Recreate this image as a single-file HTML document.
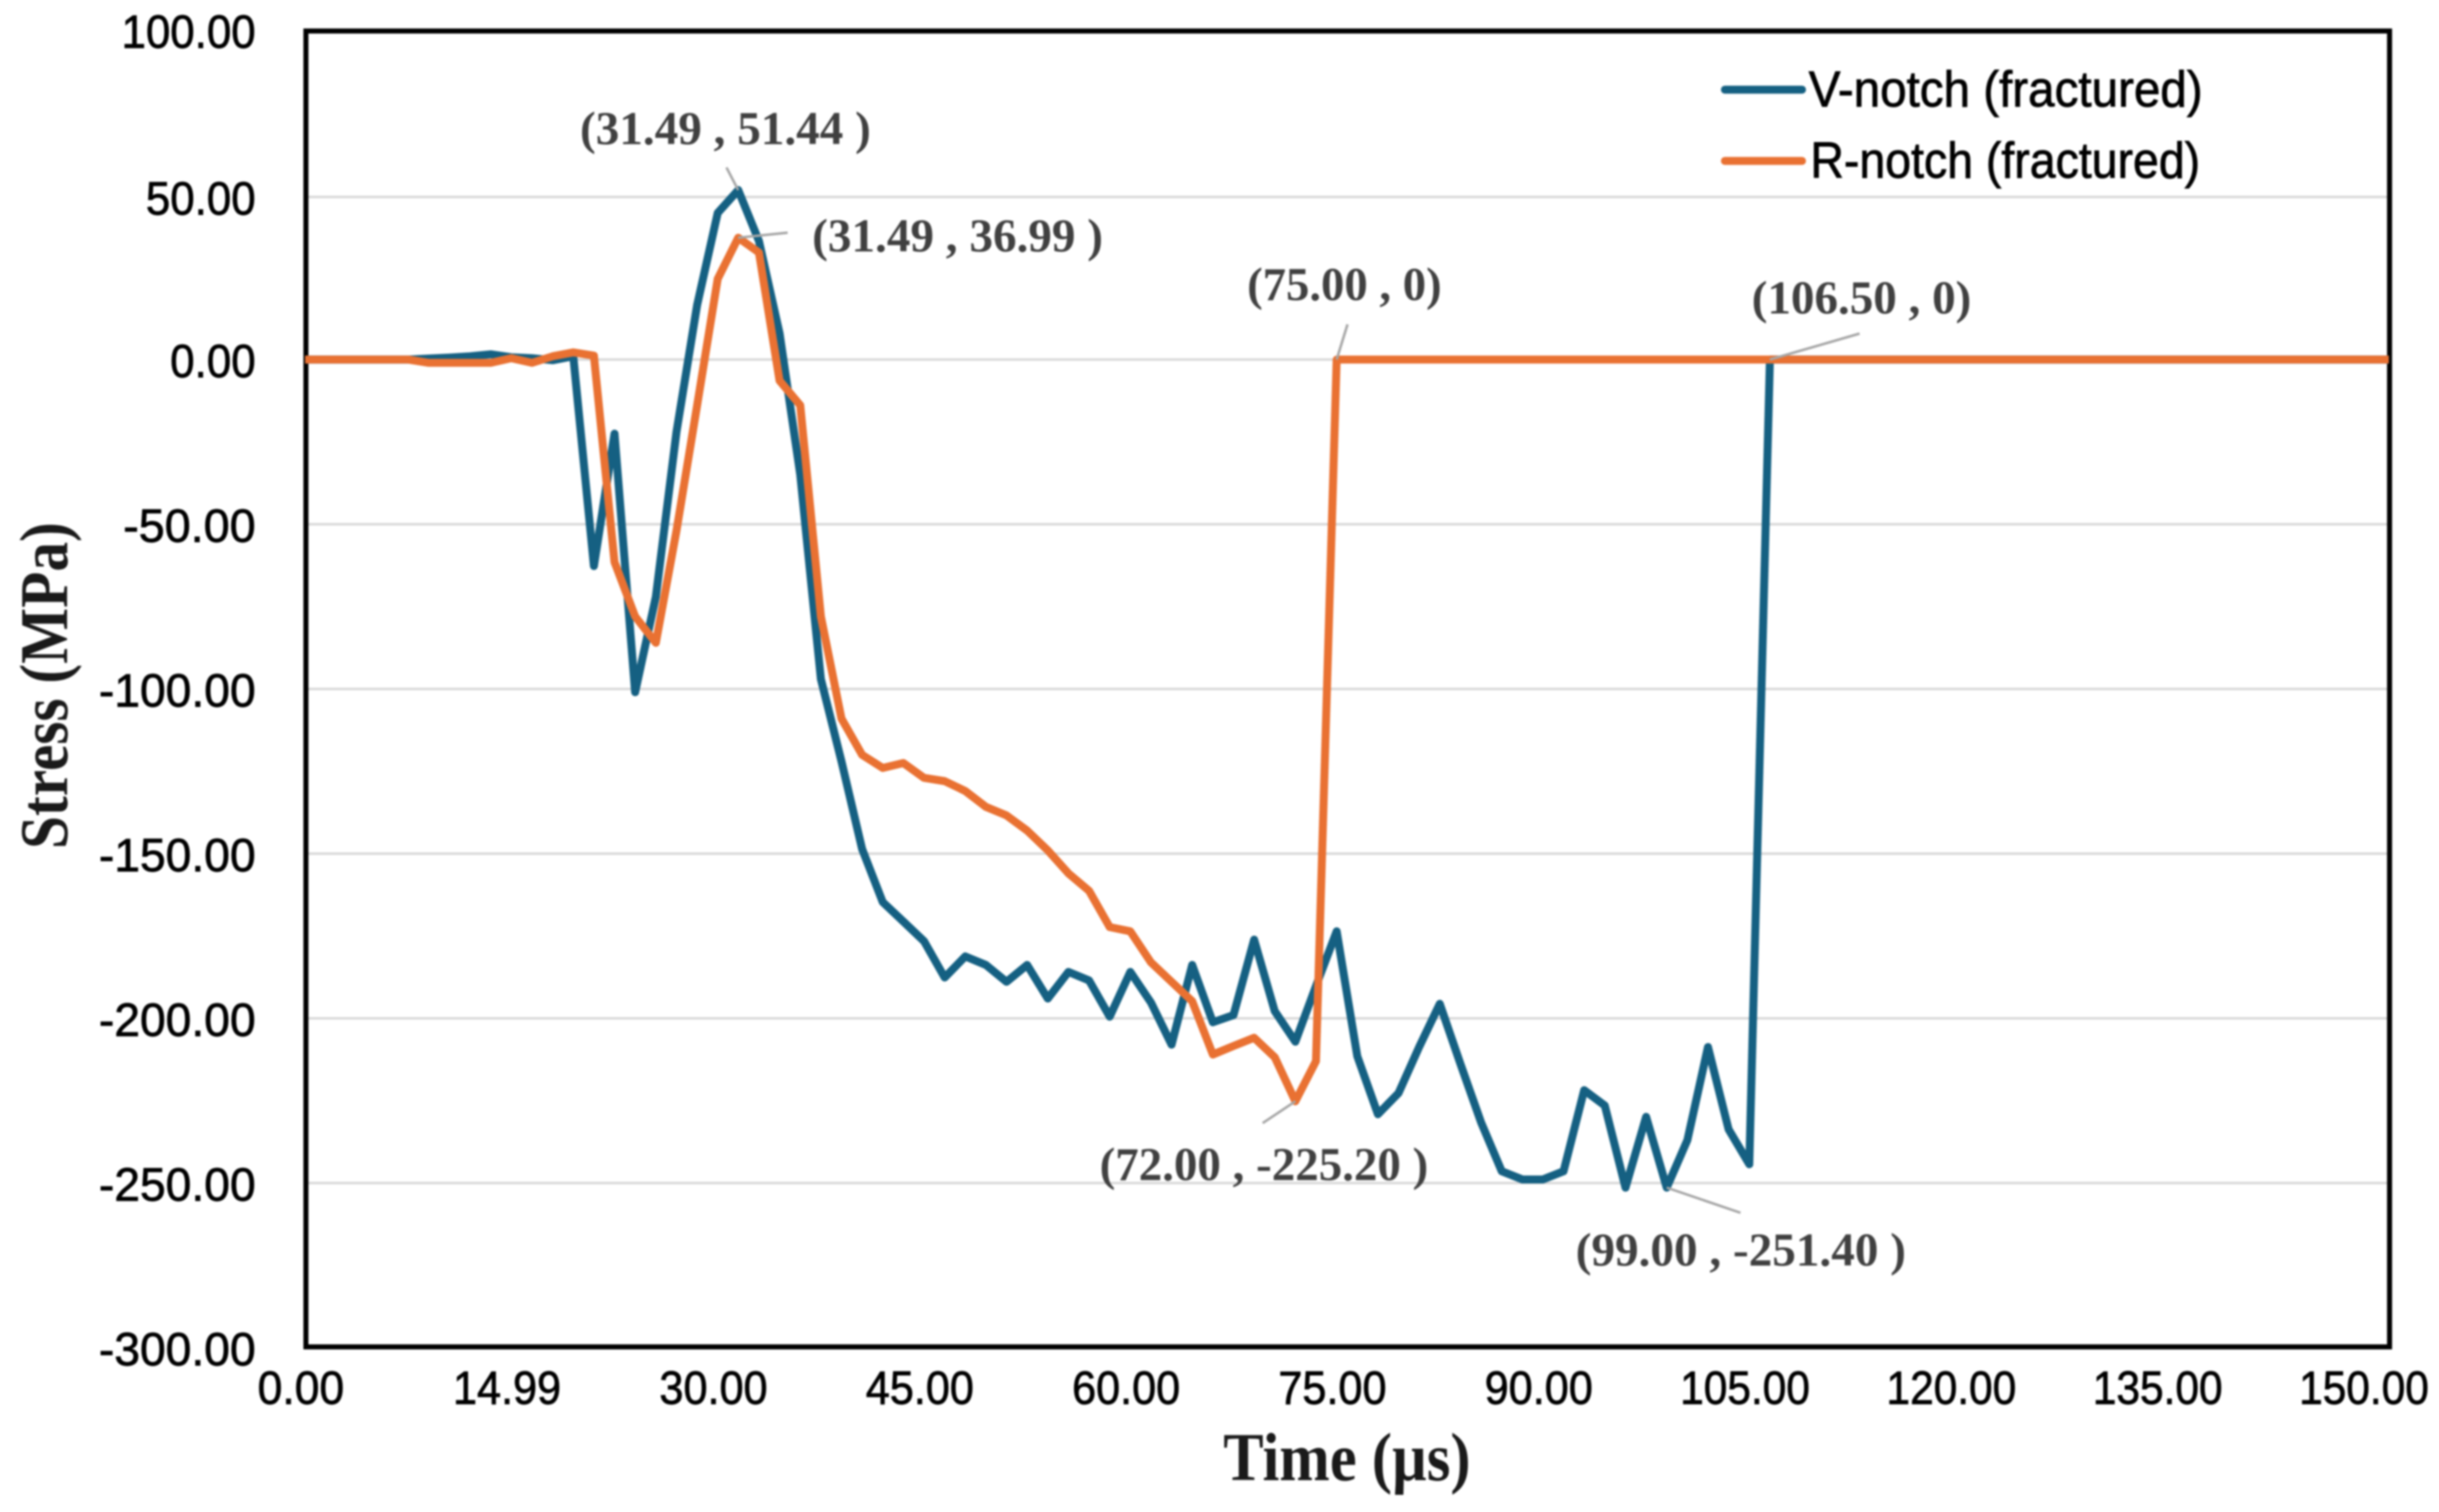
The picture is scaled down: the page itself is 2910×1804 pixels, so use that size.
<!DOCTYPE html>
<html lang="en">
<head>
<meta charset="utf-8">
<title>Stress vs Time</title>
<style>
html,body{margin:0;padding:0;background:#fff;width:2910px;height:1804px;overflow:hidden}
svg{display:block;filter:blur(1.1px)}
.tick{font-family:"Liberation Sans",sans-serif;font-size:56px;fill:#000;stroke:#000;stroke-width:0.9px}
.legend{font-family:"Liberation Sans",sans-serif;font-size:60px;fill:#000;stroke:#000;stroke-width:0.9px}
.title{font-family:"Liberation Serif",serif;font-size:82px;font-weight:bold;fill:#1a1a1a}
.note{font-family:"Liberation Serif",serif;font-size:56px;font-weight:bold;fill:#404040}
</style>
</head>
<body>
<svg id="chart" xmlns="http://www.w3.org/2000/svg" width="2910" height="1804" viewBox="0 0 2910 1804">
  <rect x="0" y="0" width="2910" height="1804" fill="#ffffff"/>
  <g id="grid"></g>
  <rect x="365" y="37" width="2486" height="1570" fill="none" stroke="#000" stroke-width="6"/>
  <g id="series"></g>
  <g id="leaders"></g>
  <g id="yticks"></g>
  <g id="xticks"></g>
  <g id="notes"></g>
  <text class="title" x="1607" y="1766" text-anchor="middle" textLength="295" lengthAdjust="spacingAndGlyphs">Time (µs)</text>
  <text class="title" transform="translate(80,818) rotate(-90)" text-anchor="middle" textLength="390" lengthAdjust="spacingAndGlyphs">Stress (MPa)</text>
  <g>
    <line x1="2058" y1="107" x2="2150" y2="107" stroke="#156082" stroke-width="9.5" stroke-linecap="round"/>
    <text class="legend" x="2158" y="127" textLength="470" lengthAdjust="spacingAndGlyphs">V-notch (fractured)</text>
    <line x1="2058" y1="192" x2="2150" y2="192" stroke="#E97132" stroke-width="9.5" stroke-linecap="round"/>
    <text class="legend" x="2160" y="212" textLength="465" lengthAdjust="spacingAndGlyphs">R-notch (fractured)</text>
  </g>
</svg>
<script>
const times = [0,1.5,3,4.5,6,7.5,9,10.5,12,13.5,14.99,16.5,18,19.5,21,22.5,24,25.5,27,28.5,30,31.49,33,34.5,36,37.5,39,40.5,42,43.5,45,46.5,48,49.5,51,52.5,54,55.5,57,58.5,60,61.5,63,64.5,66,67.5,69,70.5,72,73.5,75,76.5,78,79.5,81,82.5,84,85.5,87,88.5,90,91.5,93,94.5,96,97.5,99,100.5,102,103.5,105,106.5,108,109.5,111,112.5,114,115.5,117,118.5,120,121.5,123,124.5,126,127.5,129,130.5,132,133.5,135,136.5,138,139.5,141,142.5,144,145.5,147,148.5,150,151.5];
const vNotch = [0,0,0,0,0,0,0.3,0.6,1,1.6,0.7,0.4,-0.2,1,-62.7,-22.5,-101,-72,-22,16.5,44.5,51.44,36,8,-35,-97,-122,-148.6,-164.7,-170.6,-176.6,-187.6,-181.2,-183.8,-188.9,-183.8,-194,-185.9,-188.5,-199.5,-185.9,-195.2,-208,-183.8,-201.2,-199,-176.1,-197.8,-207.1,-190.2,-173.6,-211.5,-229.1,-222.7,-208.7,-195.6,-213.8,-231.6,-246.4,-248.9,-248.9,-246.4,-221.8,-226.5,-251.4,-229.9,-251.4,-237,-208.7,-233.7,-244.3,0,0,0,0,0,0,0,0,0,0,0,0,0,0,0,0,0,0,0,0,0,0,0,0,0,0,0,0,0,0,0];
const rNotch = [0,0,0,0,0,0,-1,-1,-1,-1,0.4,-1,1,2.2,1.2,-61.5,-78,-86,-52,-14,24.5,36.99,32.5,-6.4,-13.9,-78,-109,-120,-124,-122.5,-127,-128,-131,-135.8,-138.4,-143,-149,-156,-161.3,-172.3,-173.6,-183,-188.9,-194.8,-211,-208.4,-205.9,-211.8,-225.2,-213,0,0,0,0,0,0,0,0,0,0,0,0,0,0,0,0,0,0,0,0,0,0,0,0,0,0,0,0,0,0,0,0,0,0,0,0,0,0,0,0,0,0,0,0,0,0,0,0,0,0,0,0,0];
const yTickValues = [100,50,0,-50,-100,-150,-200,-250,-300];
const yTickLabels = ["100.00","50.00","0.00","-50.00","-100.00","-150.00","-200.00","-250.00","-300.00"];
const xTickValues = [0,14.99,30,45,60,75,90,105,120,135,150];
const xTickLabels = ["0.00","14.99","30.00","45.00","60.00","75.00","90.00","105.00","120.00","135.00","150.00"];
const noteTimes = [31.49,31.49,75,106.5,72,99];
const noteValues = [51.44,36.99,0,0,-225.2,-251.4];
const noteLabels = ["(31.49 , 51.44 )","(31.49 , 36.99 )","(75.00 , 0)","(106.50 , 0)","(72.00 , -225.20 )","(99.00 , -251.40 )"];

const NS = "http://www.w3.org/2000/svg";
const plotLeft = 364, pxPerMicro = 16.41, zeroY = 429, pxPerMPa = 3.93, frameRight = 2851;
const xScale = t => plotLeft + t * pxPerMicro;
const yScale = v => zeroY - v * pxPerMPa;
const tickY = v => yScale(v) + (v === 50 ? 2.5 : 0);
function make(tag, parent, attrs, text){
  const el = document.createElementNS(NS, tag);
  Object.keys(attrs).forEach(k => el.setAttribute(k, attrs[k]));
  if (text !== undefined) el.textContent = text;
  parent.appendChild(el);
  return el;
}

const gridGroup = document.getElementById("grid");
yTickValues.forEach(v => {
  if (v === 100 || v === -300) return;
  const g = make("line", gridGroup, {x1: 368, x2: frameRight - 3, y1: tickY(v), y2: tickY(v), stroke: "#d9d9d9", "stroke-width": 3});
  
  
});

const yGroup = document.getElementById("yticks");
yTickLabels.forEach((label, i) => {
  const negative = label.indexOf("-") === 0;
  const digitsLength = label.replace("-", "").length;
  const width = 29 * digitsLength - 14 + (negative ? 27 : 0);
  const t = make("text", yGroup, {class: "tick", x: 305, y: tickY(yTickValues[i]) + 21, "text-anchor": "end", textLength: width, lengthAdjust: "spacingAndGlyphs"}, label);
  
  
});

const xGroup = document.getElementById("xticks");
xTickLabels.forEach((label, i) => {
  const t = make("text", xGroup, {class: "tick", x: xScale(xTickValues[i]) - 5, y: 1675, "text-anchor": "middle", textLength: label.length * 25.8, lengthAdjust: "spacingAndGlyphs"}, label);
  
  
});

function linePath(values){
  return values.map((v, i) => (i ? "L" : "M") + xScale(times[i]).toFixed(1) + " " + yScale(v).toFixed(1)).join(" ");
}
const seriesGroup = document.getElementById("series");
const vPath = make("path", seriesGroup, {d: linePath(vNotch), fill: "none", stroke: "#156082", "stroke-width": 9.5, "stroke-linejoin": "round", "stroke-linecap": "butt"});


const rPath = make("path", seriesGroup, {d: linePath(rNotch), fill: "none", stroke: "#E97132", "stroke-width": 9.5, "stroke-linejoin": "round", "stroke-linecap": "butt"});



const leaderDx = [-14,59,13,107,-39,88];
const leaderDy = [-27,-6,-42,-31,26,30];
const noteTextX = [692,969,1488,2090,1312,1880];
const noteTextY = [172,300,358,374,1408,1510];
const noteTextW = [347,347,232,262,392,394];
const leaderGroup = document.getElementById("leaders");
const noteGroup = document.getElementById("notes");
noteLabels.forEach((label, i) => {
  const ax = xScale(noteTimes[i]), ay = yScale(noteValues[i]);
  const l = make("line", leaderGroup, {x1: ax, y1: ay, x2: ax + leaderDx[i], y2: ay + leaderDy[i], stroke: "#a6a6a6", "stroke-width": 3});
  
  
  const t = make("text", noteGroup, {class: "note", x: noteTextX[i], y: noteTextY[i], textLength: noteTextW[i], lengthAdjust: "spacingAndGlyphs"}, label);
  
  
});
</script>
</body>
</html>
